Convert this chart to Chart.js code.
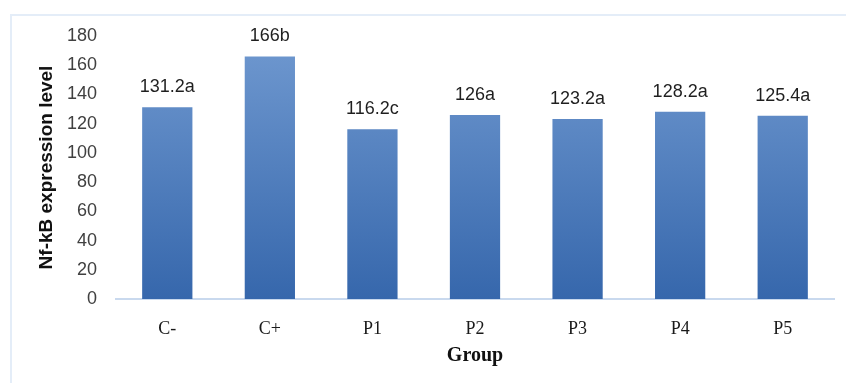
<!DOCTYPE html>
<html>
<head>
<meta charset="utf-8">
<script src="https://cdn.jsdelivr.net/npm/chart.js@4"></script>
<style>
    html, body { margin: 0; padding: 0; background: #fff; }
    #wrap { position: relative; width: 846px; height: 383px; }
    #frame {
        position: absolute; left: 10px; top: 14px; right: 0; bottom: 0;
        border-left: 2px solid #e4edf8; border-top: 2px solid #e4edf8;
    }
    #myChart { position: absolute; left: 0; top: 0; }
</style>
</head>
<body>
<div id="wrap">
    <div id="frame"></div>
    <canvas id="myChart" width="846" height="383"></canvas>
</div>
<script>
const groups = ["C-", "C+", "P1", "P2", "P3", "P4", "P5"];
const nfkbLevel = [131.2, 166, 116.2, 126, 123.2, 128.2, 125.4];
const sigLetters = ["a", "b", "c", "a", "a", "a", "a"];
const yTicks = [0, 20, 40, 60, 80, 100, 120, 140, 160, 180];

// labels like "131.2a" above each bar
const barLabels = {
    id: "barLabels",
    afterDatasetsDraw(chart) {
        const ctx = chart.ctx;
        const meta = chart.getDatasetMeta(0);
        ctx.save();
        ctx.font = "18px 'Liberation Sans', Arial, sans-serif";
        ctx.fillStyle = "#1f1f1f";
        ctx.textAlign = "center";
        ctx.textBaseline = "middle";
        meta.data.forEach(function (bar, i) {
            ctx.fillText(nfkbLevel[i] + sigLetters[i], bar.x, bar.y - 20);
        });
        ctx.restore();
    }
};

function barGradient(context) {
    const area = context.chart.chartArea;
    if (!area) return "#4a7cbf";
    const g = context.chart.ctx.createLinearGradient(0, area.top, 0, area.bottom);
    g.addColorStop(0, "#7099d0");
    g.addColorStop(1, "#3667ac");
    return g;
}

new Chart(document.getElementById("myChart"), {
    type: "bar",
    data: {
        labels: groups,
        datasets: [{
            data: nfkbLevel,
            backgroundColor: barGradient,
            borderWidth: 0,
            categoryPercentage: 1,
            barPercentage: 0.49
        }]
    },
    options: {
        responsive: false,
        animation: false,
        layout: { padding: { top: 36, right: 12, bottom: 0, left: 0 } },
        plugins: {
            legend: { display: false },
            tooltip: { enabled: false }
        },
        scales: {
            x: {
                grid: { display: false, drawTicks: false },
                border: { display: true, color: "#c9d9ee", width: 2 },
                ticks: {
                    padding: 19,
                    color: "#1a1a1a",
                    font: { family: "'Liberation Serif', 'Times New Roman', serif", size: 18 }
                },
                title: {
                    display: true,
                    text: "Group",
                    color: "#111",
                    padding: { top: 0, bottom: 15 },
                    font: { family: "'Liberation Serif', 'Times New Roman', serif", size: 20, weight: "bold" }
                },
                afterFit: function (scale) { scale.height = 84; }
            },
            y: {
                min: 0,
                max: 180,
                grid: { display: false, drawTicks: false },
                border: { display: false },
                afterBuildTicks: function (scale) {
                    scale.ticks = yTicks.map(function (v) { return { value: v }; });
                },
                ticks: {
                    padding: 19,
                    color: "#404040",
                    font: { family: "'Liberation Sans', Arial, sans-serif", size: 18 }
                },
                title: {
                    display: true,
                    text: "Nf-kB expression level",
                    color: "#111",
                    padding: { top: 35, bottom: 0 },
                    font: { family: "'Liberation Sans', Arial, sans-serif", size: 19, weight: "bold" }
                },
                afterFit: function (scale) { scale.width = 116; }
            }
        }
    },
    plugins: [barLabels]
});
</script>
</body>
</html>
